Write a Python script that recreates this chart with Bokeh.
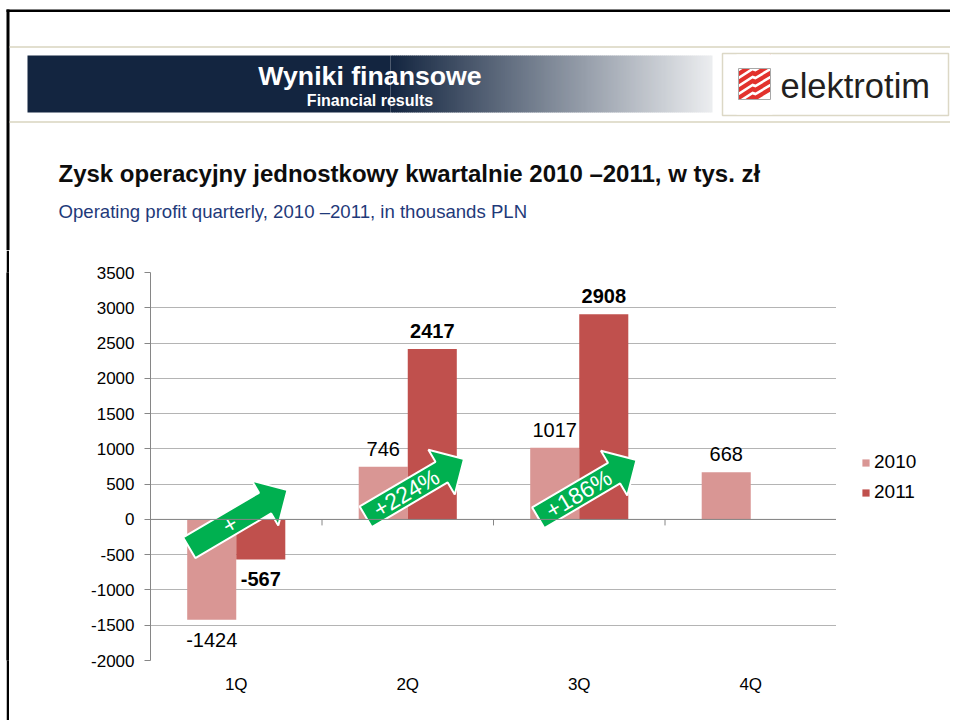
import math
from bokeh.plotting import figure
from bokeh.models import (Range1d, FactorRange, FixedTicker, Legend, LegendItem,
                          Span, ColumnDataSource, Spacer)
from bokeh.transform import dodge
from bokeh.layouts import column, row
from bokeh.core.properties import value
from bokeh.embed import file_html
from bokeh.resources import INLINE

# ---------------- data ----------------
quarters = ["1Q", "2Q", "3Q", "4Q"]
profit_2010 = [-1424, 746, 1017, 668]
quarters_2011 = ["1Q", "2Q", "3Q"]
profit_2011 = [-567, 2417, 2908]
growth_quarters = ["1Q", "2Q", "3Q"]
growth_labels = ["+", "+224%", "+186%"]
y_ticks = list(range(-2000, 3501, 500))
series_names = ["2010", "2011"]

header_title = "Wyniki finansowe"
header_subtitle = "Financial results"
logo_text = "elektrotim"
chart_title = "Zysk operacyjny jednostkowy kwartalnie 2010 \u20132011, w tys. z\u0142"
chart_subtitle = "Operating profit quarterly, 2010 \u20132011, in thousands PLN"

# ---------------- styles ----------------
FONT = "Liberation Sans"
C2010 = "#D99694"
C2011 = "#C0504D"
GREEN = "#00B050"
NAVY = (19, 37, 64)

TOTAL_W = 950
HEAD_H = 250
CH_H = 470
GAP_W, STRIP_W = 6, 3
FRAME_L, FRAME_R, FRAME_T, FRAME_B = 150, 836, 272, 660
CH_W = FRAME_R - GAP_W - STRIP_W
LEG_W = TOTAL_W - FRAME_R
ML = FRAME_L - GAP_W - STRIP_W
MT = FRAME_T - HEAD_H
MB = HEAD_H + CH_H - FRAME_B
Y0, Y1 = -2000, 3500

# ---------------- header figure (page pixel coordinates) ----------------
h = figure(width=TOTAL_W, height=HEAD_H, x_range=Range1d(0, TOTAL_W),
           y_range=Range1d(HEAD_H, 0), x_axis_type=None, y_axis_type=None,
           min_border=0, outline_line_color=None, toolbar_location=None,
           output_backend="svg")
h.background_fill_color = "white"
h.border_fill_color = "white"

# slide frame (black)
h.quad(left=[6, 6], right=[TOTAL_W, 9], top=[9, 9], bottom=[11.5, HEAD_H],
       fill_color="black", line_color=None)
# beige rules
h.segment(x0=[9, 9], y0=[46.5, 121.5], x1=[TOTAL_W, TOTAL_W], y1=[46.5, 121.5],
          line_color="#D9D5BF", line_width=1.5)

# title band with gradient
band_l, band_r, band_t, band_b = 27, 712, 55, 112
g_start, g_end = 390, 740
h.quad(left=[band_l], right=[g_start], top=[band_t], bottom=[band_b],
       fill_color="#%02x%02x%02x" % NAVY, line_color=None)
lefts, rights, cols = [], [], []
xg = g_start
step = 2
while xg < band_r:
    t = (xg + step / 2 - g_start) / (g_end - g_start)
    t = min(max(t, 0), 1)
    c = tuple(int(round(NAVY[k] + (255 - NAVY[k]) * t)) for k in range(3))
    lefts.append(xg)
    rights.append(min(xg + step + 0.5, band_r))
    cols.append("#%02x%02x%02x" % c)
    xg += step
h.quad(left=lefts, right=rights, top=band_t, bottom=band_b, fill_color=cols,
       line_color=None)
h.text(x=[369.5], y=[75], text=[header_title], text_color="white",
       text_font=value(FONT), text_font_size="26.7px", text_font_style="bold",
       text_align="center", text_baseline="middle")
h.text(x=[369.5], y=[100], text=[header_subtitle], text_color="white",
       text_font=value(FONT), text_font_size="16px", text_font_style="bold",
       text_align="center", text_baseline="middle")

# logo box
h.quad(left=[722], right=[948], top=[53], bottom=[115], fill_color="white",
       line_color="#DCD8C6", line_width=1.5)
ix0, ix1, iy0, iy1 = 738, 770, 68, 99
sx, sy = [], []
for k in range(5):
    yb = 108 - k * 8
    sx.append([ix0, 752, 755, ix1, ix1, 755, 752, ix0])
    sy.append([yb, yb - 9, yb - 8, yb - 17, yb - 22, yb - 13, yb - 14, yb - 5])
h.patches(xs=sx, ys=sy, fill_color="#E2322D", line_color=None)
h.quad(left=[ix0 - 2, ix0 - 2], right=[ix1 + 2, ix1 + 2], top=[54, iy1],
       bottom=[iy0, 114], fill_color="white", line_color=None)
h.quad(left=[ix0], right=[ix1], top=[iy0], bottom=[iy1], fill_alpha=0,
       line_color="#A8A8A8", line_width=1)
h.text(x=[780], y=[85], text=[logo_text], text_color="#231F20",
       text_font=value(FONT), text_font_size="34.5px",
       text_align="left", text_baseline="middle")

# chart titles
h.text(x=[58], y=[173], text=[chart_title], text_color="#0D0D0D",
       text_font=value(FONT), text_font_size="24px", text_font_style="bold",
       text_align="left", text_baseline="middle")
h.text(x=[58], y=[211], text=[chart_subtitle], text_color="#1F3A7A",
       text_font=value(FONT), text_font_size="18.6px",
       text_align="left", text_baseline="middle")

# ---------------- chart figure ----------------
p = figure(width=CH_W, height=CH_H, x_range=FactorRange(*quarters),
           y_range=Range1d(Y0, Y1), toolbar_location=None, output_backend="svg",
           min_border_left=ML, min_border_right=0, min_border_top=MT,
           min_border_bottom=MB, outline_line_color=None)
p.background_fill_color = "white"
p.border_fill_color = "white"

frame_w = FRAME_R - FRAME_L
frame_h = FRAME_B - FRAME_T
XS = frame_w / len(quarters)          # px per category unit
YS = (Y1 - Y0) / frame_h              # data units per px

BAR_W = 0.286
OFF = BAR_W / 2

src10 = ColumnDataSource(dict(q=quarters, v=profit_2010,
                              t=[str(v) for v in profit_2010],
                              off=[-18 if v > 0 else 20 for v in profit_2010]))
src11 = ColumnDataSource(dict(q=quarters_2011, v=profit_2011,
                              t=[str(v) for v in profit_2011],
                              off=[-18 if v > 0 else 20 for v in profit_2011]))

r10 = p.vbar(x=dodge("q", -OFF, range=p.x_range), top="v", width=BAR_W,
             source=src10, fill_color=C2010, line_color=None)
r11 = p.vbar(x=dodge("q", OFF, range=p.x_range), top="v", width=BAR_W,
             source=src11, fill_color=C2011, line_color=None)

# horizontal (category) axis at zero with boundary ticks
p.add_layout(Span(location=0, dimension="width", line_color="#868686",
                  line_width=1))
bounds = list(range(1, len(quarters)))
p.segment(x0=bounds, y0=0, x1=bounds, y1=-6 * YS, line_color="#868686",
          line_width=1)

# growth arrows
ANG = math.radians(30.5)
TAIL_DX = [-47, -42, -41]     # px from category centre
TAIL_Y = [-402, 37, 23]       # data units
L, BW, HW, HL = 114, 24, 52, 26
ca, sa = math.cos(ANG), math.sin(ANG)
axs, ays, tx, ty = [], [], [], []
for i, qq in enumerate(growth_quarters):
    xc = quarters.index(qq) + 0.5 + TAIL_DX[i] / XS
    yc = TAIL_Y[i]
    pts = [(0, -BW / 2), (L - HL, -BW / 2), (L - HL, -HW / 2), (L, 0),
           (L - HL, HW / 2), (L - HL, BW / 2), (0, BW / 2)]
    axs.append([xc + (u * ca - v * sa) / XS for u, v in pts])
    ays.append([yc + (u * sa + v * ca) * YS for u, v in pts])
    um = 47
    tx.append(xc + um * ca / XS)
    ty.append(yc + um * sa * YS)
p.patches(xs=axs, ys=ays, fill_color=GREEN, line_color="white", line_width=2)

# data labels
p.text(x=dodge("q", -OFF, range=p.x_range), y="v", text="t", source=src10,
       y_offset="off", text_align="center", text_baseline="middle",
       text_font=value(FONT), text_font_size="20px", text_color="black")
p.text(x=dodge("q", OFF, range=p.x_range), y="v", text="t", source=src11,
       y_offset="off", text_align="center", text_baseline="middle",
       text_font=value(FONT), text_font_size="20px", text_font_style="bold",
       text_color="black")

p.text(x=tx, y=ty, text=growth_labels, angle=ANG, text_align="center",
       text_baseline="middle", text_font=value(FONT), text_font_size="23px",
       text_color="white")

# axes
p.xgrid.visible = False
p.ygrid.grid_line_color = "#B4B4B4"
p.ygrid.ticker = FixedTicker(ticks=y_ticks)
p.yaxis.ticker = FixedTicker(ticks=y_ticks)
p.yaxis.major_label_overrides = {t: str(t) for t in y_ticks}
p.yaxis.axis_line_color = "#868686"
p.yaxis.major_tick_line_color = "#868686"
p.yaxis.major_tick_out = 6
p.yaxis.major_tick_in = 0
p.yaxis.minor_tick_line_color = None
p.yaxis.major_label_standoff = 10
p.yaxis.major_label_text_font = FONT
p.yaxis.major_label_text_font_size = "17px"
p.yaxis.major_label_text_color = "black"

p.xaxis.axis_line_color = None
p.xaxis.major_tick_line_color = None
p.xaxis.major_tick_out = 0
p.xaxis.major_tick_in = 0
p.xaxis.minor_tick_line_color = None
p.xaxis.major_label_standoff = 14
p.xaxis.major_label_text_font = FONT
p.xaxis.major_label_text_font_size = "17px"
p.xaxis.major_label_text_color = "black"

# ---------------- legend panel (right of the plot area) ----------------
lf = figure(width=LEG_W, height=CH_H, x_range=Range1d(0, 1), y_range=Range1d(0, 1),
            x_axis_type=None, y_axis_type=None, min_border=0,
            outline_line_color=None, toolbar_location=None, output_backend="svg")
lf.background_fill_color = "white"
lf.border_fill_color = "white"
# legend proxies share the bar colours; their data lie outside the visible range
lr10 = lf.vbar(x=[5], top=[5], bottom=[4], width=0.1, fill_color=C2010,
               line_color=None)
lr11 = lf.vbar(x=[5], top=[5], bottom=[4], width=0.1, fill_color=C2011,
               line_color=None)
legend = Legend(items=[LegendItem(label=series_names[0], renderers=[lr10]),
                       LegendItem(label=series_names[1], renderers=[lr11])],
                location=(25, 157), orientation="vertical", glyph_width=9,
                glyph_height=9, label_text_font=FONT, label_text_color="black",
                label_text_font_size="19px", label_standoff=4, spacing=8,
                padding=10, margin=0, border_line_color=None,
                background_fill_alpha=0, label_height=21)
lf.add_layout(legend, "center")

# left slide frame strip
gap = Spacer(width=GAP_W, height=CH_H)
strip = figure(width=STRIP_W, height=CH_H, x_range=Range1d(0, 1),
               y_range=Range1d(0, 1), x_axis_type=None, y_axis_type=None,
               min_border=0, outline_line_color=None, toolbar_location=None,
               output_backend="svg")
strip.background_fill_color = "black"
strip.border_fill_color = "black"
strip.quad(left=[0], right=[1], top=[1], bottom=[0], fill_color="black",
           line_color=None)

layout = column(h, row(gap, strip, p, lf, spacing=0), spacing=0)

open("out.html", "w").write(file_html(layout, INLINE))
